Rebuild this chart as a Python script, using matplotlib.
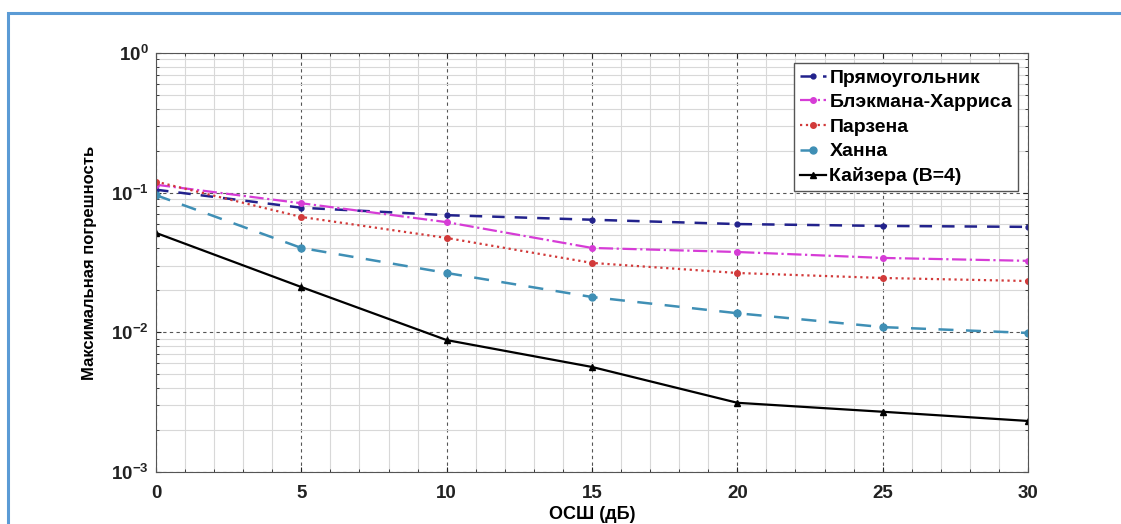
import matplotlib
matplotlib.use("Agg")
import matplotlib.pyplot as plt
from matplotlib.patches import Rectangle
from matplotlib.ticker import LogLocator, MultipleLocator, FixedLocator, NullFormatter

plt.rcParams['font.family'] = ['Liberation Sans', 'DejaVu Sans']
plt.rcParams['font.weight'] = 'bold'
plt.rcParams['mathtext.fontset'] = 'custom'
plt.rcParams['mathtext.rm'] = 'Liberation Sans'
plt.rcParams['mathtext.bf'] = 'Liberation Sans:bold'

# данные
osh = [0, 5, 10, 15, 20, 25, 30]
pryam = [0.105, 0.078, 0.069, 0.064, 0.0596, 0.0578, 0.0569]
blackman = [0.114, 0.084, 0.0615, 0.0402, 0.0376, 0.0341, 0.0325]
parzen = [0.120, 0.067, 0.0474, 0.0314, 0.0266, 0.0245, 0.0233]
hann = [0.096, 0.0402, 0.0266, 0.0179, 0.0137, 0.0109, 0.0099]
kaiser = [0.0515, 0.0211, 0.0088, 0.00565, 0.00313, 0.0027, 0.00232]
names = ["Прямоугольник", "Блэкмана-Харриса", "Парзена", "Ханна", "Кайзера (B=4)"]
yticks = [1e-3, 1e-2, 1e-1, 1e0]
ytick_labels = ["$\\mathbf{10^{-3}}$", "$\\mathbf{10^{-2}}$", "$\\mathbf{10^{-1}}$", "$\\mathbf{10^{0}}$"]

fig = plt.figure(figsize=(11.21, 5.24), dpi=100)
ax = fig.add_axes([156/1121, 1 - 472/524, (1028 - 156)/1121, (472 - 53)/524])

ax.plot(osh, pryam, '--', color='#22228c', marker='.', ms=7, lw=1.8, dashes=(5, 4), label=names[0])
ax.plot(osh, blackman, '-.', color='#d63cd6', marker='.', ms=8, lw=1.6, label=names[1])
ax.plot(osh, parzen, ':', color='#d23a3a', marker='.', ms=8, lw=1.6, label=names[2])
ax.plot(osh, hann, '--', color='#3f8fb5', marker='o', ms=5, lw=1.8, dashes=(6, 5), label=names[3])
ax.plot(osh, kaiser, '-', color='black', marker='^', ms=5, lw=1.6, label=names[4])

ax.set_yscale('log')
ax.set_xlim(0, 30)
ax.set_ylim(1e-3, 1)
ax.xaxis.set_major_locator(MultipleLocator(5))
ax.xaxis.set_minor_locator(MultipleLocator(1))
ax.yaxis.set_major_locator(FixedLocator(yticks))
ax.set_yticklabels(ytick_labels)
ax.yaxis.set_minor_locator(LogLocator(base=10, subs=range(2, 10)))
ax.yaxis.set_minor_formatter(NullFormatter())

ax.grid(which='major', linestyle=(0, (3, 3)), color='#555555', lw=0.8)
ax.grid(which='minor', linestyle='-', color='#d8d8d8', lw=0.8)
ax.set_axisbelow(True)
ax.tick_params(which='both', direction='in', top=True, right=True, labelsize=13.5, colors='#222222')
ax.tick_params(axis='x', pad=9)
ax.tick_params(axis='y', pad=5)
for sp in ax.spines.values():
    sp.set_color('#555555')

ax.set_xlabel("ОСШ (дБ)", fontsize=13, fontweight='bold', labelpad=3)
ax.set_ylabel("Максимальная погрешность", fontsize=12, fontweight='bold', labelpad=10)

leg = ax.legend(loc='upper right', bbox_to_anchor=(0.9885, 0.976),
                handlelength=1.35, handletextpad=0.15, borderpad=0.3, labelspacing=0.36,
                borderaxespad=0.0, fancybox=False, framealpha=1, edgecolor='#555555',
                prop={'weight': 'bold', 'size': 14})
leg.get_frame().set_linewidth(1.0)

fig.patches.append(Rectangle((8/1121, -0.1), 1.2, 0.1 + (524 - 13)/524, transform=fig.transFigure,
                             fill=False, edgecolor='#5b9bd5', lw=2.2))

fig.savefig("out.png", dpi=100)
